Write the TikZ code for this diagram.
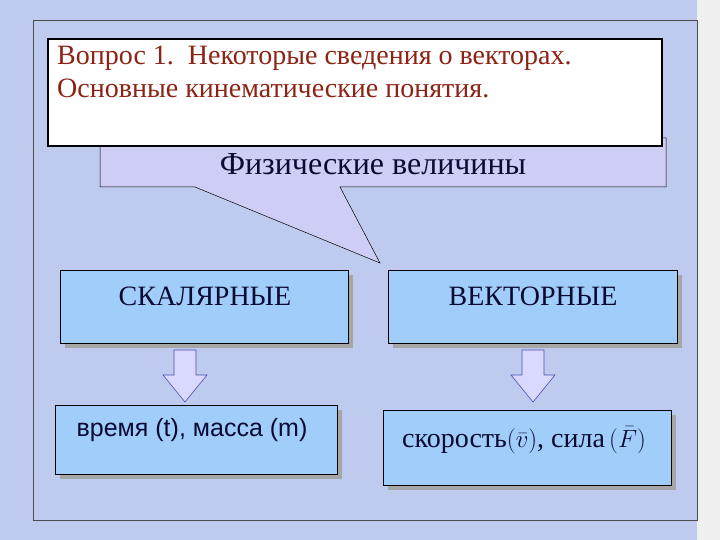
\documentclass[tikz,border=0pt]{standalone}
\usepackage{fontspec}
\setmainfont{Liberation Serif}
\setsansfont{Liberation Sans}
\definecolor{bg}{RGB}{190,203,238}
\definecolor{boxblue}{RGB}{160,205,250}
\definecolor{lav}{RGB}{205,205,245}
\definecolor{title}{RGB}{140,35,20}
\definecolor{navy}{RGB}{10,10,50}
\tikzset{
 box/.style={draw=black,fill=boxblue,line width=0.8pt,anchor=north west},
 lbl/.style={text=navy,font=\fontsize{28}{32}\selectfont,inner sep=0pt},
 shadow/.style={fill=gray!70},
 darr/.style={draw=blue!40!gray,fill=white!85!blue,line width=0.6pt}
}
\begin{document}
\begin{tikzpicture}[x=1pt,y=-1pt]
\useasboundingbox (0,0) rectangle (720,540);
\fill[bg] (0,0) rectangle (720,540);
\fill[gray!12] (697,0) rectangle (720,540);
\draw[gray!60!black,line width=0.6pt] (33,20) rectangle (697,520);
% callout
\draw[fill=lav,line width=0.5pt] (100,138) -- (666,138) -- (666,187) -- (340,187) -- (380,263) -- (195,187) -- (100,187) -- cycle;
\node[lbl,font=\fontsize{32}{36}\selectfont] (phys) at (373,164) {Физические величины};
% title
\node[draw=black,line width=1.6pt,fill=white,minimum width=614pt,minimum height=107pt,anchor=north west] (tbox) at (47,38) {};
\node[anchor=north west,align=left,text=title,font=\fontsize{28}{33}\selectfont,inner sep=0pt] (ttext) at (57,46) {Вопрос 1.\ \ Некоторые сведения о векторах.\\Основные кинематические понятия.};
% top boxes
\fill[shadow] (65,275) rectangle (353,348);
\fill[shadow] (393,275) rectangle (682,348);
\node[box,minimum width=288pt,minimum height=73pt] (sc) at (60,270) {};
\node[box,minimum width=289pt,minimum height=73pt] (vec) at (388,270) {};
\node[lbl] (sct) at (205,296) {СКАЛЯРНЫЕ};
\node[lbl] (vect) at (533,296) {ВЕКТОРНЫЕ};
% arrows
\draw[darr] (174,350) -- (196,350) -- (196,375) -- (207,375) -- (185,402) -- (163,375) -- (174,375) -- cycle;
\draw[darr] (522,350) -- (544,350) -- (544,375) -- (555,375) -- (533,402) -- (511,375) -- (522,375) -- cycle;
% bottom boxes
\fill[shadow] (60,410) rectangle (342,479);
\fill[shadow] (388,415) rectangle (676,490);
\node[box,minimum width=282pt,minimum height=69pt] (tm) at (55,405) {};
\node[box,minimum width=288pt,minimum height=75pt] (vf) at (383,410) {};
\node[lbl,font=\sffamily\fontsize{25}{28}\selectfont] (tmt) at (192,430) {время (t), масса (m)};
\node[lbl,anchor=west] (vft) at (402,440) {скорость$(\bar v)$, сила$\,(\bar F)$};
\end{tikzpicture}
\end{document}
